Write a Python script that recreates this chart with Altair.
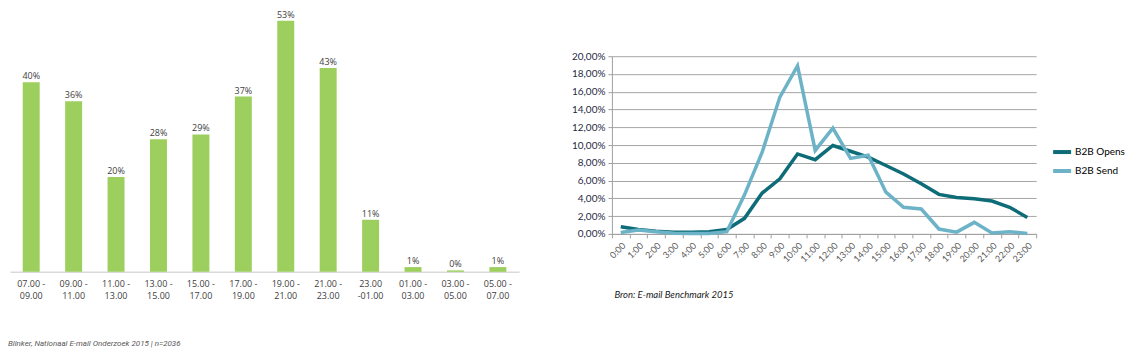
import altair as alt
import pandas as pd

# ---- left chart data ----
slot_labels = ["07.00 -\n09.00", "09.00 -\n11.00", "11.00 -\n13.00", "13.00 -\n15.00",
               "15.00 -\n17.00", "17.00 -\n19.00", "19.00 -\n21.00", "21.00 -\n23.00",
               "23.00\n-01.00", "01.00 -\n03.00", "03.00 -\n05.00", "05.00 -\n07.00"]
slot_values = [40, 36, 20, 28, 29, 37, 53, 43, 11, 1, 0.3, 1]
left_footer = "Blinker, Nationaal E-mail Onderzoek 2015 | n=2036"

# ---- right chart data ----
hours = ["0:00", "1:00", "2:00", "3:00", "4:00", "5:00", "6:00", "7:00", "8:00", "9:00",
         "10:00", "11:00", "12:00", "13:00", "14:00", "15:00", "16:00", "17:00", "18:00",
         "19:00", "20:00", "21:00", "22:00", "23:00"]
opens = [0.8, 0.5, 0.3, 0.2, 0.18, 0.25, 0.5, 1.75, 4.6, 6.2, 9.0, 8.35, 9.95, 9.3,
         8.65, 7.7, 6.75, 5.65, 4.45, 4.1, 3.95, 3.7, 3.0, 1.85]
send = [0.15, 0.45, 0.25, 0.07, 0.05, 0.05, 0.25, 4.4, 9.2, 15.4, 18.9, 9.4, 11.9, 8.5,
        8.85, 4.7, 3.0, 2.8, 0.55, 0.2, 1.3, 0.1, 0.25, 0.05]
series_names = ["B2B Opens", "B2B Send"]
series_colors = ["#0E6C78", "#6DB3C7"]
right_source = "Bron: E-mail Benchmark 2015"

bars_df = pd.DataFrame({"slot": slot_labels, "pct": slot_values})
rows = []
for name, vals in zip(series_names, [opens, send]):
    for h, v in zip(hours, vals):
        rows.append({"hour": h, "series": name, "value": v})
lines_df = pd.DataFrame(rows)

# ---- left chart ----
xl = alt.X("slot:N", sort=slot_labels,
           scale=alt.Scale(paddingInner=0.6, paddingOuter=0.3),
           axis=alt.Axis(title=None, labelAngle=0, labelExpr="split(datum.label, '\\n')",
                         ticks=False, domainColor="#D9D9D9", domainWidth=1.5,
                         labelFontSize=9, labelFont="Open Sans", labelColor="#404040",
                         labelPadding=8, labelLineHeight=11.5))
# plot area shares its top with the right panel; tall bars rise above it
yl = alt.Y("pct:Q", scale=alt.Scale(domain=[0, 45.5], nice=False), axis=None)

lbase = alt.Chart(bars_df)
bars = lbase.mark_bar(color="#9DCF5E").encode(x=xl, y=yl)
btext = lbase.transform_calculate(
    lab="format(datum.pct, '.0f') + '%'"
).mark_text(baseline="bottom", dy=-1, fontSize=9, font="Open Sans", color="#404040").encode(
    x=xl, y=yl, text="lab:N")

left = alt.layer(bars, btext).properties(
    width=510, height=216,
    title=alt.TitleParams(text=left_footer, orient="bottom", anchor="start", frame="group",
                          dx=-2, offset=40, fontSize=8, fontStyle="italic",
                          fontWeight="normal", font="Roboto", color="#595959"))

# ---- right chart ----
xr = alt.X("hour:N", sort=hours, bandPosition=0.5,
           scale=alt.Scale(type="band", paddingInner=0, paddingOuter=0),
           axis=alt.Axis(title=right_source, titleFontStyle="italic", titleFontWeight="normal",
                         titleFont="Lato", titleFontSize=9.5, titleColor="#1a1a1a",
                         titleAnchor="start", titleAlign="left", titleBaseline="middle",
                         titleX=2, titleY=61,
                         labelAngle=-45, labelFontSize=9, labelFont="Lato",
                         labelColor="#595959", labelPadding=3,
                         tickBand="extent", tickSize=4, tickColor="#A0A0A0",
                         domainColor="#A0A0A0", grid=False))
yr = alt.Y("value:Q", scale=alt.Scale(domain=[0, 20], nice=False),
           axis=alt.Axis(values=list(range(0, 21, 2)), title=None,
                         labelExpr="replace(format(datum.value, '.2f'), '.', ',') + '%'",
                         gridColor="#A6A6A6", gridWidth=1, domainColor="#A0A0A0",
                         tickColor="#A0A0A0", tickSize=4, labelFontSize=10,
                         labelFont="Lato", labelColor="#1F2A44", labelPadding=3))
color = alt.Color("series:N",
                  scale=alt.Scale(domain=series_names, range=series_colors),
                  legend=alt.Legend(title=None, orient="none", legendX=440, legendY=85,
                                    symbolType="stroke", symbolStrokeWidth=4,
                                    symbolSize=324, labelFontSize=10, labelFont="Lato",
                                    labelColor="#000000", rowPadding=0, labelOffset=2))

right = alt.Chart(lines_df).mark_line(strokeWidth=3.5).encode(
    x=xr, y=yr, color=color
).properties(width=425, height=178)

chart = alt.hconcat(left, right, spacing=52).resolve_scale(
    color="independent").resolve_legend(color="independent").properties(
    padding={"left": 0, "top": 2, "right": 0, "bottom": 0},
    background="white"
).configure_view(stroke=None)

chart.save("out.html", embed_options={"renderer": "svg", "actions": False})
